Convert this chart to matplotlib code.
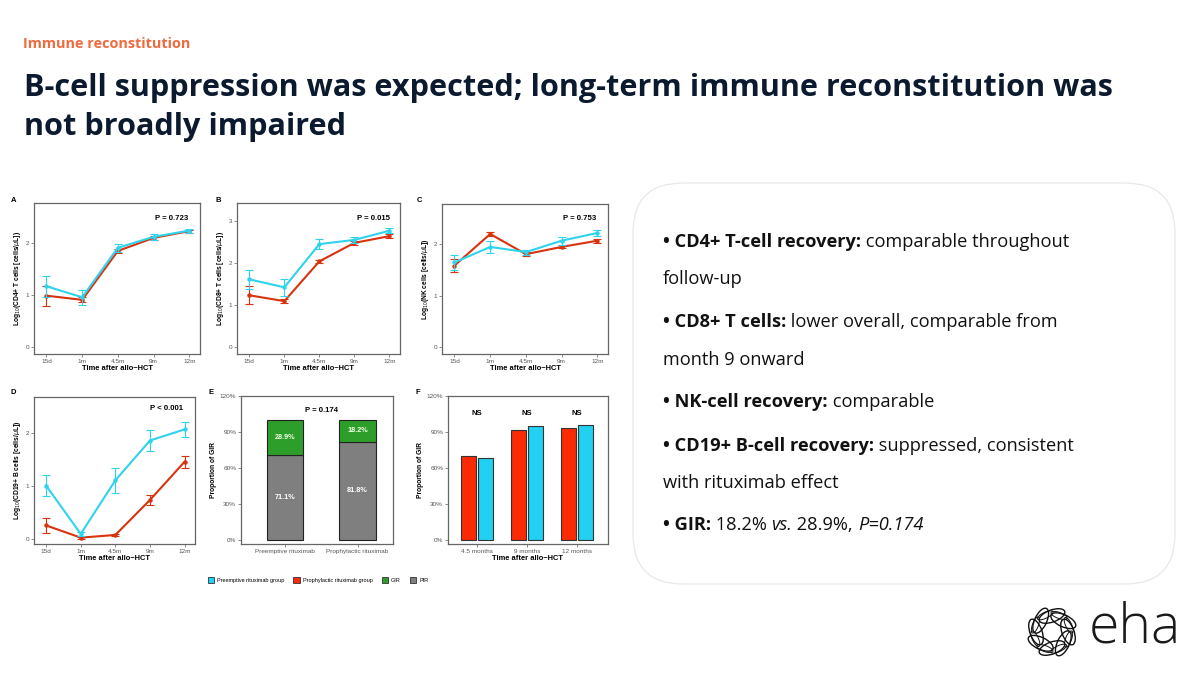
import numpy as np
import matplotlib
matplotlib.use('Agg')
import matplotlib.pyplot as plt
from matplotlib import font_manager
from matplotlib.patches import FancyBboxPatch, Ellipse, Patch

W, H = 1200, 682

# ---- data ----
times = ['15d', '1m', '4.5m', '9m', '12m']

cd4_pre = [1.17, 0.96, 1.91, 2.12, 2.24]
cd4_pre_err = [0.20, 0.14, 0.08, 0.06, 0.04]
cd4_pro = [0.99, 0.91, 1.85, 2.10, 2.23]
cd4_pro_err = [0.19, 0.05, 0.04, 0.04, 0.03]

cd8_pre = [1.61, 1.42, 2.45, 2.55, 2.77]
cd8_pre_err = [0.23, 0.20, 0.11, 0.07, 0.06]
cd8_pro = [1.23, 1.09, 2.04, 2.48, 2.64]
cd8_pro_err = [0.21, 0.05, 0.04, 0.04, 0.04]

nk_pre = [1.64, 1.94, 1.84, 2.06, 2.21]
nk_pre_err = [0.15, 0.12, 0.05, 0.08, 0.05]
nk_pro = [1.58, 2.19, 1.80, 1.94, 2.06]
nk_pro_err = [0.13, 0.04, 0.04, 0.03, 0.04]

cd19_pre = [1.01, 0.10, 1.11, 1.86, 2.07]
cd19_pre_err = [0.20, 0.04, 0.23, 0.20, 0.14]
cd19_pro = [0.26, 0.03, 0.08, 0.74, 1.46]
cd19_pro_err = [0.14, 0.02, 0.02, 0.10, 0.11]

e_groups = ['Preemptive rituximab', 'Prophylactic rituximab']
e_pir = [71.1, 81.8]
e_gir = [28.9, 18.2]

f_times = ['4.5 months', '9 months', '12 months']
f_pro = [69.7, 92.0, 93.0]
f_pre = [68.0, 94.7, 95.9]

bullets = [
    [('• CD4+ T-cell recovery:', 'bold', 'normal'), (' comparable throughout', 'normal', 'normal')],
    [('follow-up', 'normal', 'normal')],
    [('• CD8+ T cells:', 'bold', 'normal'), (' lower overall, comparable from', 'normal', 'normal')],
    [('month 9 onward', 'normal', 'normal')],
    [('• NK-cell recovery:', 'bold', 'normal'), (' comparable', 'normal', 'normal')],
    [('• CD19+ B-cell recovery:', 'bold', 'normal'), (' suppressed, consistent', 'normal', 'normal')],
    [('with rituximab effect', 'normal', 'normal')],
    [('• GIR:', 'bold', 'normal'), (' 18.2% ', 'normal', 'normal'), ('vs.', 'normal', 'italic'),
     (' 28.9%, ', 'normal', 'normal'), ('P=0.174', 'normal', 'italic')],
]
bullet_y = [242, 279, 322, 360, 402, 446, 483, 525]

CYAN = '#2ED3EE'
RED = '#D7330F'
BAR_RED = '#FA2A05'
BAR_CYAN = '#22D0F2'
GREEN = '#2E9E2A'
GREY = '#7F7F7F'
PANEL_FONT = ['Liberation Sans', 'DejaVu Sans']


def font_path(fam, weight):
    try:
        return font_manager.findfont(font_manager.FontProperties(family=fam, weight=weight),
                                     fallback_to_default=False).lower()
    except Exception:
        return ''


slide_fam = next((f for f in ['Open Sans', 'Noto Sans', 'Lato', 'Roboto']
                  if 'bold' in font_path(f, 'bold')), 'DejaVu Sans')
SLIDE_FONT = [slide_fam, 'DejaVu Sans']

# a light (not hairline) face for the logo word, if one is installed
logo_fam, logo_wt = 'Lato', 'normal'
for f in ['Roboto', 'Open Sans', 'Lato', 'Noto Sans', 'Inter']:
    p = font_path(f, 'light')
    if 'light' in p and 'extralight' not in p:
        logo_fam, logo_wt = f, 'light'
        break

fig = plt.figure(figsize=(W / 100, H / 100), dpi=100)
fig.patch.set_facecolor('white')

# page axes in pixel units for slide text and decorations
page = fig.add_axes([0, 0, 1, 1], zorder=0)
page.set_xlim(0, W)
page.set_ylim(H, 0)
page.axis('off')
renderer = fig.canvas.get_renderer()


def text_width(t):
    return t.get_window_extent(renderer=renderer).width


def fit(t, target):
    t.set_fontsize(t.get_fontsize() * target / text_width(t))


sub = page.text(23, 44, 'Immune reconstitution', color='#EF6A3F', fontsize=11,
                fontweight='bold', family=SLIDE_FONT, va='center')
fit(sub, 168)
t1 = page.text(24, 88, 'B-cell suppression was expected; long-term immune reconstitution was',
               color='#0B1A2E', fontsize=20, fontweight='bold', family=SLIDE_FONT, va='center')
fit(t1, 1088)
page.text(24, 127, 'not broadly impaired', color='#0B1A2E', fontsize=t1.get_fontsize(),
          fontweight='bold', family=SLIDE_FONT, va='center')

# right summary box
box = FancyBboxPatch((633, 183), 542, 401, boxstyle='round,pad=0,rounding_size=50',
                     facecolor='white', edgecolor='#E8E8E8', lw=0.9)
page.add_patch(box)

# bullet font size taken from the first line's width
probe = page.text(0, 0, 'x', fontsize=14, family=SLIDE_FONT)
widths = []
for txt, wt, st in bullets[0]:
    probe.set_text(txt)
    probe.set_fontweight(wt)
    widths.append(text_width(probe))
probe.remove()
bsize = 14 * 408 / sum(widths)

for runs, y in zip(bullets, bullet_y):
    x = 663
    for txt, wt, st in runs:
        t = page.text(x, y, txt, fontsize=bsize, fontweight=wt, style=st,
                      family=SLIDE_FONT, color='#111111', va='center')
        x += text_width(t)

# eha logo
cx, cy = 1052, 632
for k in range(8):
    a = 2 * np.pi * k / 8
    page.add_patch(Ellipse((cx + 16 * np.cos(a), cy + 16 * np.sin(a)), 27, 12,
                           angle=np.degrees(a) + 70, fill=False, ec='#111111', lw=1.0))
    page.add_patch(Ellipse((cx + 18 * np.cos(a + 0.4), cy + 18 * np.sin(a + 0.4)), 17, 6,
                           angle=np.degrees(a) + 110, fill=False, ec='#111111', lw=0.7))
eha = page.text(1089, 628, 'eha', fontsize=38, family=[logo_fam, 'DejaVu Sans'],
                fontweight=logo_wt, color='#1A1A1A', va='center')
fit(eha, 92)


def px_axes(l, t, r, b):
    return fig.add_axes([l / W, 1 - b / H, (r - l) / W, (b - t) / H], zorder=2)


def style(ax):
    for s in ax.spines.values():
        s.set_color('#666666')
        s.set_linewidth(0.9)
    ax.tick_params(length=2, width=0.6, color='#777777', labelsize=4.6,
                   labelcolor='#555555', pad=1.5)
    for lab in ax.get_xticklabels() + ax.get_yticklabels():
        lab.set_family(PANEL_FONT)


def line_panel(rect, pre, pre_err, pro, pro_err, ylim, yticks, cell, ptxt, pxy, letter, lxy):
    ax = px_axes(*rect)
    x = np.arange(1, len(times) + 1)
    ax.errorbar(x, pro, yerr=pro_err, color=RED, lw=1.5, marker='o', ms=2.2,
                capsize=3, capthick=0.8, elinewidth=0.8, zorder=3)
    ax.errorbar(x, pre, yerr=pre_err, color=CYAN, lw=1.5, marker='o', ms=2.2,
                capsize=3, capthick=0.8, elinewidth=0.8, zorder=4)
    ax.set_xlim(0.65, 5.3)
    ax.set_ylim(*ylim)
    ax.set_xticks(x)
    ax.set_xticklabels(times)
    ax.set_yticks(yticks)
    ax.set_ylabel(r'Log$_{10}$(' + cell + r' [cells/$\mu$L])', fontsize=4.8,
                  fontweight='bold', family=PANEL_FONT, labelpad=2)
    ax.set_xlabel('Time after allo\u2212HCT', fontsize=5.4, fontweight='bold',
                  family=PANEL_FONT, labelpad=0.5)
    ax.text(pxy[0], pxy[1], ptxt, transform=ax.transAxes, ha='center', va='center',
            fontsize=5.6, fontweight='bold', family=PANEL_FONT)
    style(ax)
    page.text(lxy[0], lxy[1], letter, fontsize=5.5, fontweight='bold', family=PANEL_FONT,
              va='center', ha='center')
    return ax


line_panel((34, 203, 200, 354), cd4_pre, cd4_pre_err, cd4_pro, cd4_pro_err,
           (-0.13, 2.77), [0, 1, 2], 'CD4+ T cells', 'P = 0.723', (0.83, 0.9), 'A', (14, 200))
line_panel((237, 203, 400, 354), cd8_pre, cd8_pre_err, cd8_pro, cd8_pro_err,
           (-0.17, 3.43), [0, 1, 2, 3], 'CD8+ T cells', 'P = 0.015', (0.84, 0.9), 'B', (218, 200))
line_panel((442, 204, 608, 354), nk_pre, nk_pre_err, nk_pro, nk_pro_err,
           (-0.13, 2.77), [0, 1, 2], 'NK cells', 'P = 0.753', (0.83, 0.9), 'C', (419, 200))
line_panel((34, 397, 195, 544), cd19_pre, cd19_pre_err, cd19_pro, cd19_pro_err,
           (-0.09, 2.68), [0, 1, 2], 'CD19+ B cells', 'P < 0.001', (0.82, 0.92), 'D', (13, 392))

# E: stacked GIR / PIR
axe = px_axes(241, 396, 393, 544)
xe = np.arange(1, len(e_groups) + 1)
axe.bar(xe, e_pir, width=0.5, color=GREY, edgecolor='#222222', lw=0.8)
axe.bar(xe, e_gir, width=0.5, bottom=e_pir, color=GREEN, edgecolor='#222222', lw=0.8)
for xi, p, g in zip(xe, e_pir, e_gir):
    axe.text(xi, p / 2, f'{p:.1f}%', ha='center', va='center', color='white',
             fontsize=5.2, fontweight='bold', family=PANEL_FONT)
    axe.text(xi, p + g / 2, f'{g:.1f}%', ha='center', va='center', color='#F4FFE8',
             fontsize=5.2, fontweight='bold', family=PANEL_FONT)
axe.set_xlim(0.39, 2.49)
axe.set_ylim(-3.3, 120)
axe.set_yticks([0, 30, 60, 90, 120])
axe.set_yticklabels(['0%', '30%', '60%', '90%', '120%'])
axe.set_xticks(xe)
axe.set_xticklabels(e_groups)
axe.set_ylabel('Proportion of GIR', fontsize=4.8, fontweight='bold', family=PANEL_FONT, labelpad=2)
axe.text(0.53, 0.9, 'P = 0.174', transform=axe.transAxes, ha='center', va='center',
         fontsize=5.6, fontweight='bold', family=PANEL_FONT)
style(axe)
page.text(211, 392, 'E', fontsize=5.5, fontweight='bold', family=PANEL_FONT, va='center', ha='center')

# F: GIR by time point
axf = px_axes(448, 396, 608, 544)
xf = np.arange(1, len(f_times) + 1)
axf.bar(xf - 0.17, f_pro, width=0.3, color=BAR_RED, edgecolor='#333333', lw=0.8)
axf.bar(xf + 0.17, f_pre, width=0.3, color=BAR_CYAN, edgecolor='#333333', lw=0.8)
for xi in xf:
    axf.text(xi, 0.88, 'NS', transform=axf.get_xaxis_transform(), ha='center', va='center',
             fontsize=5.6, fontweight='bold', family=PANEL_FONT)
axf.set_xlim(0.42, 3.62)
axf.set_ylim(-3.3, 120)
axf.set_yticks([0, 30, 60, 90, 120])
axf.set_yticklabels(['0%', '30%', '60%', '90%', '120%'])
axf.set_xticks(xf)
axf.set_xticklabels(f_times)
axf.set_ylabel('Proportion of GIR', fontsize=4.8, fontweight='bold', family=PANEL_FONT, labelpad=2)
axf.set_xlabel('Time after allo\u2212HCT', fontsize=5.4, fontweight='bold',
               family=PANEL_FONT, labelpad=0.5)
style(axf)
page.text(418, 392, 'F', fontsize=5.5, fontweight='bold', family=PANEL_FONT, va='center', ha='center')

# shared legend
handles = [Patch(facecolor=BAR_CYAN, edgecolor='#333333', lw=0.6),
           Patch(facecolor=BAR_RED, edgecolor='#333333', lw=0.6),
           Patch(facecolor=GREEN, edgecolor='#333333', lw=0.6),
           Patch(facecolor=GREY, edgecolor='#333333', lw=0.6)]
labels = ['Preemptive rituximab group', 'Prophylactic rituximab group', 'GIR', 'PIR']
fig.legend(handles, labels, loc='center', bbox_to_anchor=(318 / W, 1 - 580 / H), ncol=4,
           frameon=False, prop={'family': PANEL_FONT, 'size': 4}, handlelength=1.2,
           handleheight=1.2, columnspacing=1.6, handletextpad=0.5)

fig.savefig('out.png', dpi=100, facecolor='white')
